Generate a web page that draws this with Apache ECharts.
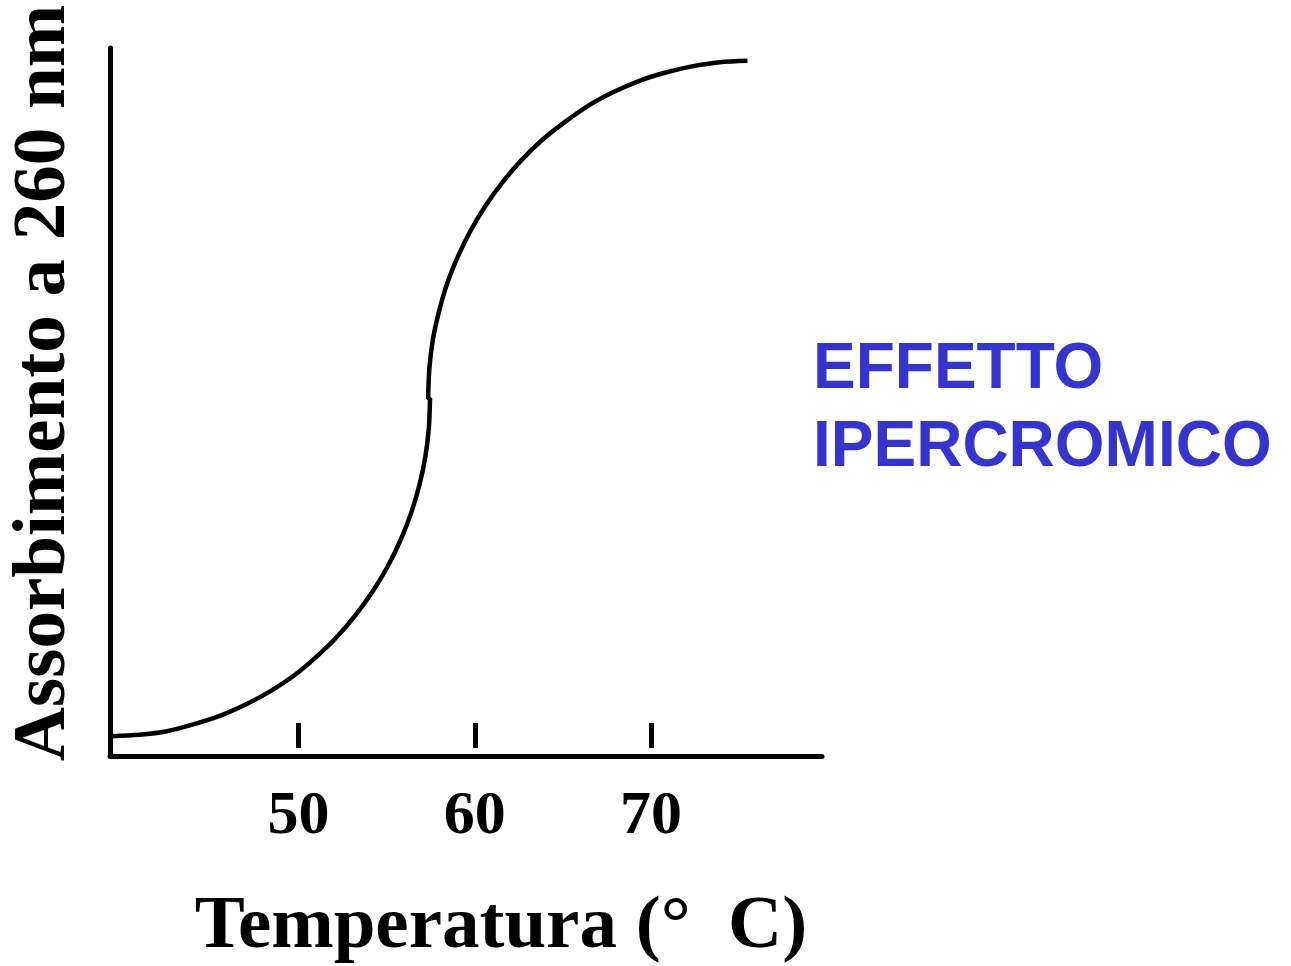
<!DOCTYPE html>
<html>
<head>
<meta charset="utf-8">
<title>Effetto ipercromico</title>
<script src="https://cdn.jsdelivr.net/npm/echarts@6/dist/echarts.min.js"></script>
<style>
  html, body { margin: 0; padding: 0; background: #fff; }
  #chart { width: 1291px; height: 966px; }
</style>
</head>
<body>
<div id="chart"></div>
<script>
  // temperature (°C): lower half, then upper half
  var temperature = [39.39, 40.97, 42.53, 44.07, 45.57, 47.03, 48.43, 49.76, 51.01, 52.17,
                     53.23, 54.19, 55.04, 55.77, 56.37, 56.85, 57.19, 57.39, 57.46,
                     57.35, 57.42, 57.62, 57.97, 58.44, 59.05, 59.78, 60.63, 61.59, 62.66,
                     63.82, 65.08, 66.41, 67.81, 69.27, 70.78, 72.32, 73.89, 75.47];
  // absorbance at 260 nm (relative units)
  var absorbance = [0.028, 0.030, 0.035, 0.045, 0.057, 0.073, 0.092, 0.114, 0.140, 0.168,
                    0.199, 0.232, 0.267, 0.304, 0.342, 0.382, 0.422, 0.463, 0.505,
                    0.505, 0.547, 0.588, 0.628, 0.668, 0.706, 0.743, 0.778, 0.811, 0.842,
                    0.870, 0.895, 0.918, 0.937, 0.953, 0.965, 0.974, 0.980, 0.982];
  var tickValues = [50, 60, 70];

  var points = [];
  for (var i = 0; i < temperature.length; i++) {
    points.push([temperature[i], absorbance[i]]);
  }

  var serif = '"Liberation Serif", "Times New Roman", serif';

  var chart = echarts.init(document.getElementById('chart'));
  chart.setOption({
    animation: false,
    backgroundColor: '#fff',
    grid: { left: 110, right: 469, top: 48, bottom: 210, outerBoundsMode: 'none' },
    xAxis: [{
      type: 'value',
      min: 39.3,
      max: 79.7,
      name: 'Temperatura (°  C)',
      nameLocation: 'middle',
      nameGap: 134,
      nameTextStyle: { fontFamily: serif, fontWeight: 'bold', fontSize: 75, color: '#000', padding: [0, 0, 0, 70] },
      axisLine: { show: true, onZero: false, lineStyle: { color: '#000', width: 5 } },
      axisTick: { show: false },
      splitLine: { show: false },
      axisLabel: {
        customValues: tickValues,
        margin: 30,
        fontFamily: serif, fontWeight: 'bold', fontSize: 62, color: '#000'
      }
    }, {
      // short tick marks sitting just above the axis line
      type: 'value',
      min: 39.3,
      max: 79.7,
      position: 'bottom',
      offset: -8,
      axisLine: { show: false },
      axisLabel: { show: false },
      splitLine: { show: false },
      axisTick: {
        show: true,
        inside: true,
        length: 25,
        customValues: tickValues,
        lineStyle: { color: '#000', width: 5 }
      }
    }],
    yAxis: {
      type: 'value',
      min: 0,
      max: 1,
      name: 'Assorbimento a 260 nm',
      nameLocation: 'middle',
      nameGap: 28,
      nameTextStyle: { fontFamily: serif, fontWeight: 'bold', fontSize: 75, color: '#000', padding: [0, 0, 0, 38] },
      axisLine: { show: true, lineStyle: { color: '#000', width: 5 } },
      axisTick: { show: false },
      axisLabel: { show: false },
      splitLine: { show: false }
    },
    graphic: [{
      type: 'text',
      left: 813,
      top: 331,
      style: {
        text: 'EFFETTO\nIPERCROMICO',
        font: 'bold 64px "Liberation Sans", Arial, sans-serif',
        fill: '#3535cc',
        lineHeight: 78
      }
    }],
    series: [{
      type: 'line',
      data: points,
      xAxisIndex: 0,
      smooth: 0.3,
      symbol: 'none',
      lineStyle: { color: '#000', width: 4.5 }
    }]
  });
</script>
</body>
</html>
